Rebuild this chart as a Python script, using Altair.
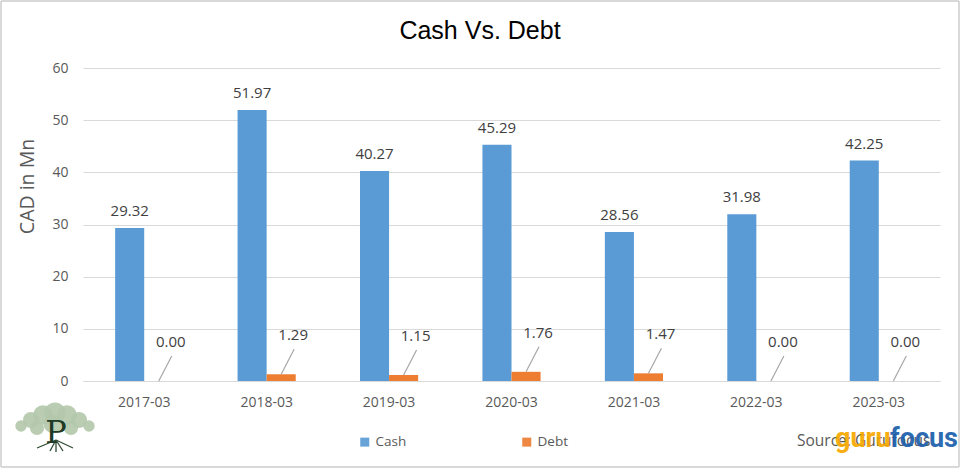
import altair as alt
import pandas as pd

# ---- data ----
years = ["2017-03", "2018-03", "2019-03", "2020-03", "2021-03", "2022-03", "2023-03"]
cash = [29.32, 51.97, 40.27, 45.29, 28.56, 31.98, 42.25]
debt = [0.00, 1.29, 1.15, 1.76, 1.47, 0.00, 0.00]
series = ["Cash", "Debt"]
colors = ["#5B9BD5", "#ED7D31"]
title_text = "Cash Vs. Debt"

rows = []
for y, c, d in zip(years, cash, debt):
    rows.append({"Year": y, "Series": "Cash", "Value": c})
    rows.append({"Year": y, "Series": "Debt", "Value": d})
df = pd.DataFrame(rows)

W, H = 857, 313
FONT = "Open Sans"
GRAY = "#595959"

x_enc = alt.X("Year:N", sort=years, title=None,
              scale=alt.Scale(paddingInner=0.525, paddingOuter=0.2625),
              axis=alt.Axis(labelAngle=0, labelFontSize=14, labelColor=GRAY, labelFont=FONT,
                            labelPadding=14, ticks=False, domainColor="#D9D9D9", domainWidth=1,
                            grid=False))
xo_enc = alt.XOffset("Series:N", sort=series, scale=alt.Scale(paddingInner=0, paddingOuter=0))
y_enc = alt.Y("Value:Q", scale=alt.Scale(domain=[0, 60], nice=False),
              axis=alt.Axis(values=[0, 10, 20, 30, 40, 50, 60], title="CAD in Mn",
                            titleFontSize=19.5, titleFont=FONT, titleColor=GRAY,
                            titleFontWeight="normal", titleAngle=-90, titleBaseline="middle",
                            titleAlign="center", titleX=-55.5, titleY=118,
                            labelFontSize=14, labelColor=GRAY, labelFont=FONT, labelPadding=15,
                            ticks=False, domain=False, gridColor="#D9D9D9", gridWidth=1))

base = alt.Chart(df)

bars = base.mark_bar().encode(
    x=x_enc, xOffset=xo_enc, y=y_enc,
    color=alt.Color("Series:N", sort=series,
                    scale=alt.Scale(domain=series, range=colors),
                    legend=alt.Legend(title=None, orient="none", direction="horizontal",
                                      legendX=275, legendY=367, symbolType="square",
                                      symbolSize=81, symbolStrokeWidth=0, labelFontSize=13.5,
                                      labelFont=FONT, labelColor=GRAY, columnPadding=113,
                                      labelOffset=4)),
)

cash_labels = base.transform_filter(alt.datum.Series == "Cash").mark_text(
    baseline="alphabetic", dy=-12, fontSize=15, font=FONT, color="#404040"
).encode(x=alt.X("Year:N", sort=years), xOffset=xo_enc, y="Value:Q",
         text=alt.Text("Value:Q", format=".2f"))

debt_labels = base.transform_filter(alt.datum.Series == "Debt").mark_text(
    baseline="alphabetic", dx=12, dy=-34, fontSize=15, font=FONT, color="#404040"
).encode(x=alt.X("Year:N", sort=years), xOffset=xo_enc, y="Value:Q",
         text=alt.Text("Value:Q", format=".2f"))

leaders = base.transform_filter(alt.datum.Series == "Debt").mark_rule(
    color="#A6A6A6", strokeWidth=1.2, xOffset=14.55, x2Offset=27.5, yOffset=0, y2Offset=-25
).encode(x=alt.X("Year:N", sort=years), x2="Year:N", y="Value:Q", y2="Value:Q")

title = alt.Chart(pd.DataFrame({"t": [title_text]})).mark_text(
    align="center", baseline="alphabetic", fontSize=25, font="Liberation Sans", color="#000000"
).encode(x=alt.value(397), y=alt.value(-29), text="t:N")

source = alt.Chart(pd.DataFrame({"t": ["Source: Gurufocus"]})).mark_text(
    align="left", baseline="alphabetic", fontSize=15.5, font=FONT, color=GRAY
).encode(x=alt.value(714), y=alt.value(378), text="t:N")

logo_df = pd.DataFrame({"t": ["guru", "focus"], "c": ["#F6A800", "#1B5EAB"],
                        "px": [752, 807]})
logo = alt.Chart(logo_df).mark_text(
    align="left", baseline="alphabetic", fontSize=27, fontWeight="bold",
    font="Roboto", opacity=0.92
).encode(x=alt.X("px:Q", scale=None), y=alt.value(379), text="t:N",
         color=alt.Color("c:N", scale=None))

tree_df = pd.DataFrame({
    "px": [-62, -52, -40, -28, -16, -4, 6, -46, -12, -30],
    "py": [358, 352, 347, 345, 347, 352, 358, 360, 360, 356],
    "s": [130, 260, 380, 450, 380, 260, 130, 200, 200, 350]})
tree = alt.Chart(tree_df).mark_circle(color="#B3C8AB", opacity=0.9).encode(
    x=alt.X("px:Q", scale=None), y=alt.Y("py:Q", scale=None),
    size=alt.Size("s:Q", scale=None, legend=None))
roots_df = pd.DataFrame({"x1": [-27, -27, -27, -27, -27], "y1": [372, 372, 372, 372, 372],
                         "x2": [-46, -10, -33, -20, -27], "y2": [380, 380, 383, 383, 384]})
roots = alt.Chart(roots_df).mark_rule(color="#2E4A32", strokeWidth=1.3).encode(
    x=alt.X("x1:Q", scale=None), y=alt.Y("y1:Q", scale=None),
    x2="x2:Q", y2="y2:Q")
tree_p = alt.Chart(pd.DataFrame({"t": ["P"]})).mark_text(
    fontSize=32, font="DejaVu Serif", color="#1F3B26", baseline="alphabetic"
).encode(x=alt.value(-27), y=alt.value(375), text="t:N")

# frame around the whole picture, drawn as four rules
frame_df = pd.DataFrame({"x1": [-82, -82, -82, 876], "x2": [876, 876, -82, 876],
                         "y1": [-67, 399, -67, -67], "y2": [-67, 399, 399, 399]})
frame = alt.Chart(frame_df).mark_rule(color="#D9D9D9", strokeWidth=2).encode(
    x=alt.X("x1:Q", scale=None), x2="x2:Q",
    y=alt.Y("y1:Q", scale=None), y2="y2:Q")

chart = alt.layer(
    bars, leaders, cash_labels, debt_labels, title, source, logo, tree, roots, tree_p, frame
).properties(
    width=W, height=H,
    background="white",
    autosize=alt.AutoSizeParams(type="none"),
    padding={"left": 83, "top": 68, "right": 20, "bottom": 87},
).configure_view(stroke="transparent", strokeWidth=0)

chart.save("out.html", embed_options={"renderer": "svg", "actions": False})
